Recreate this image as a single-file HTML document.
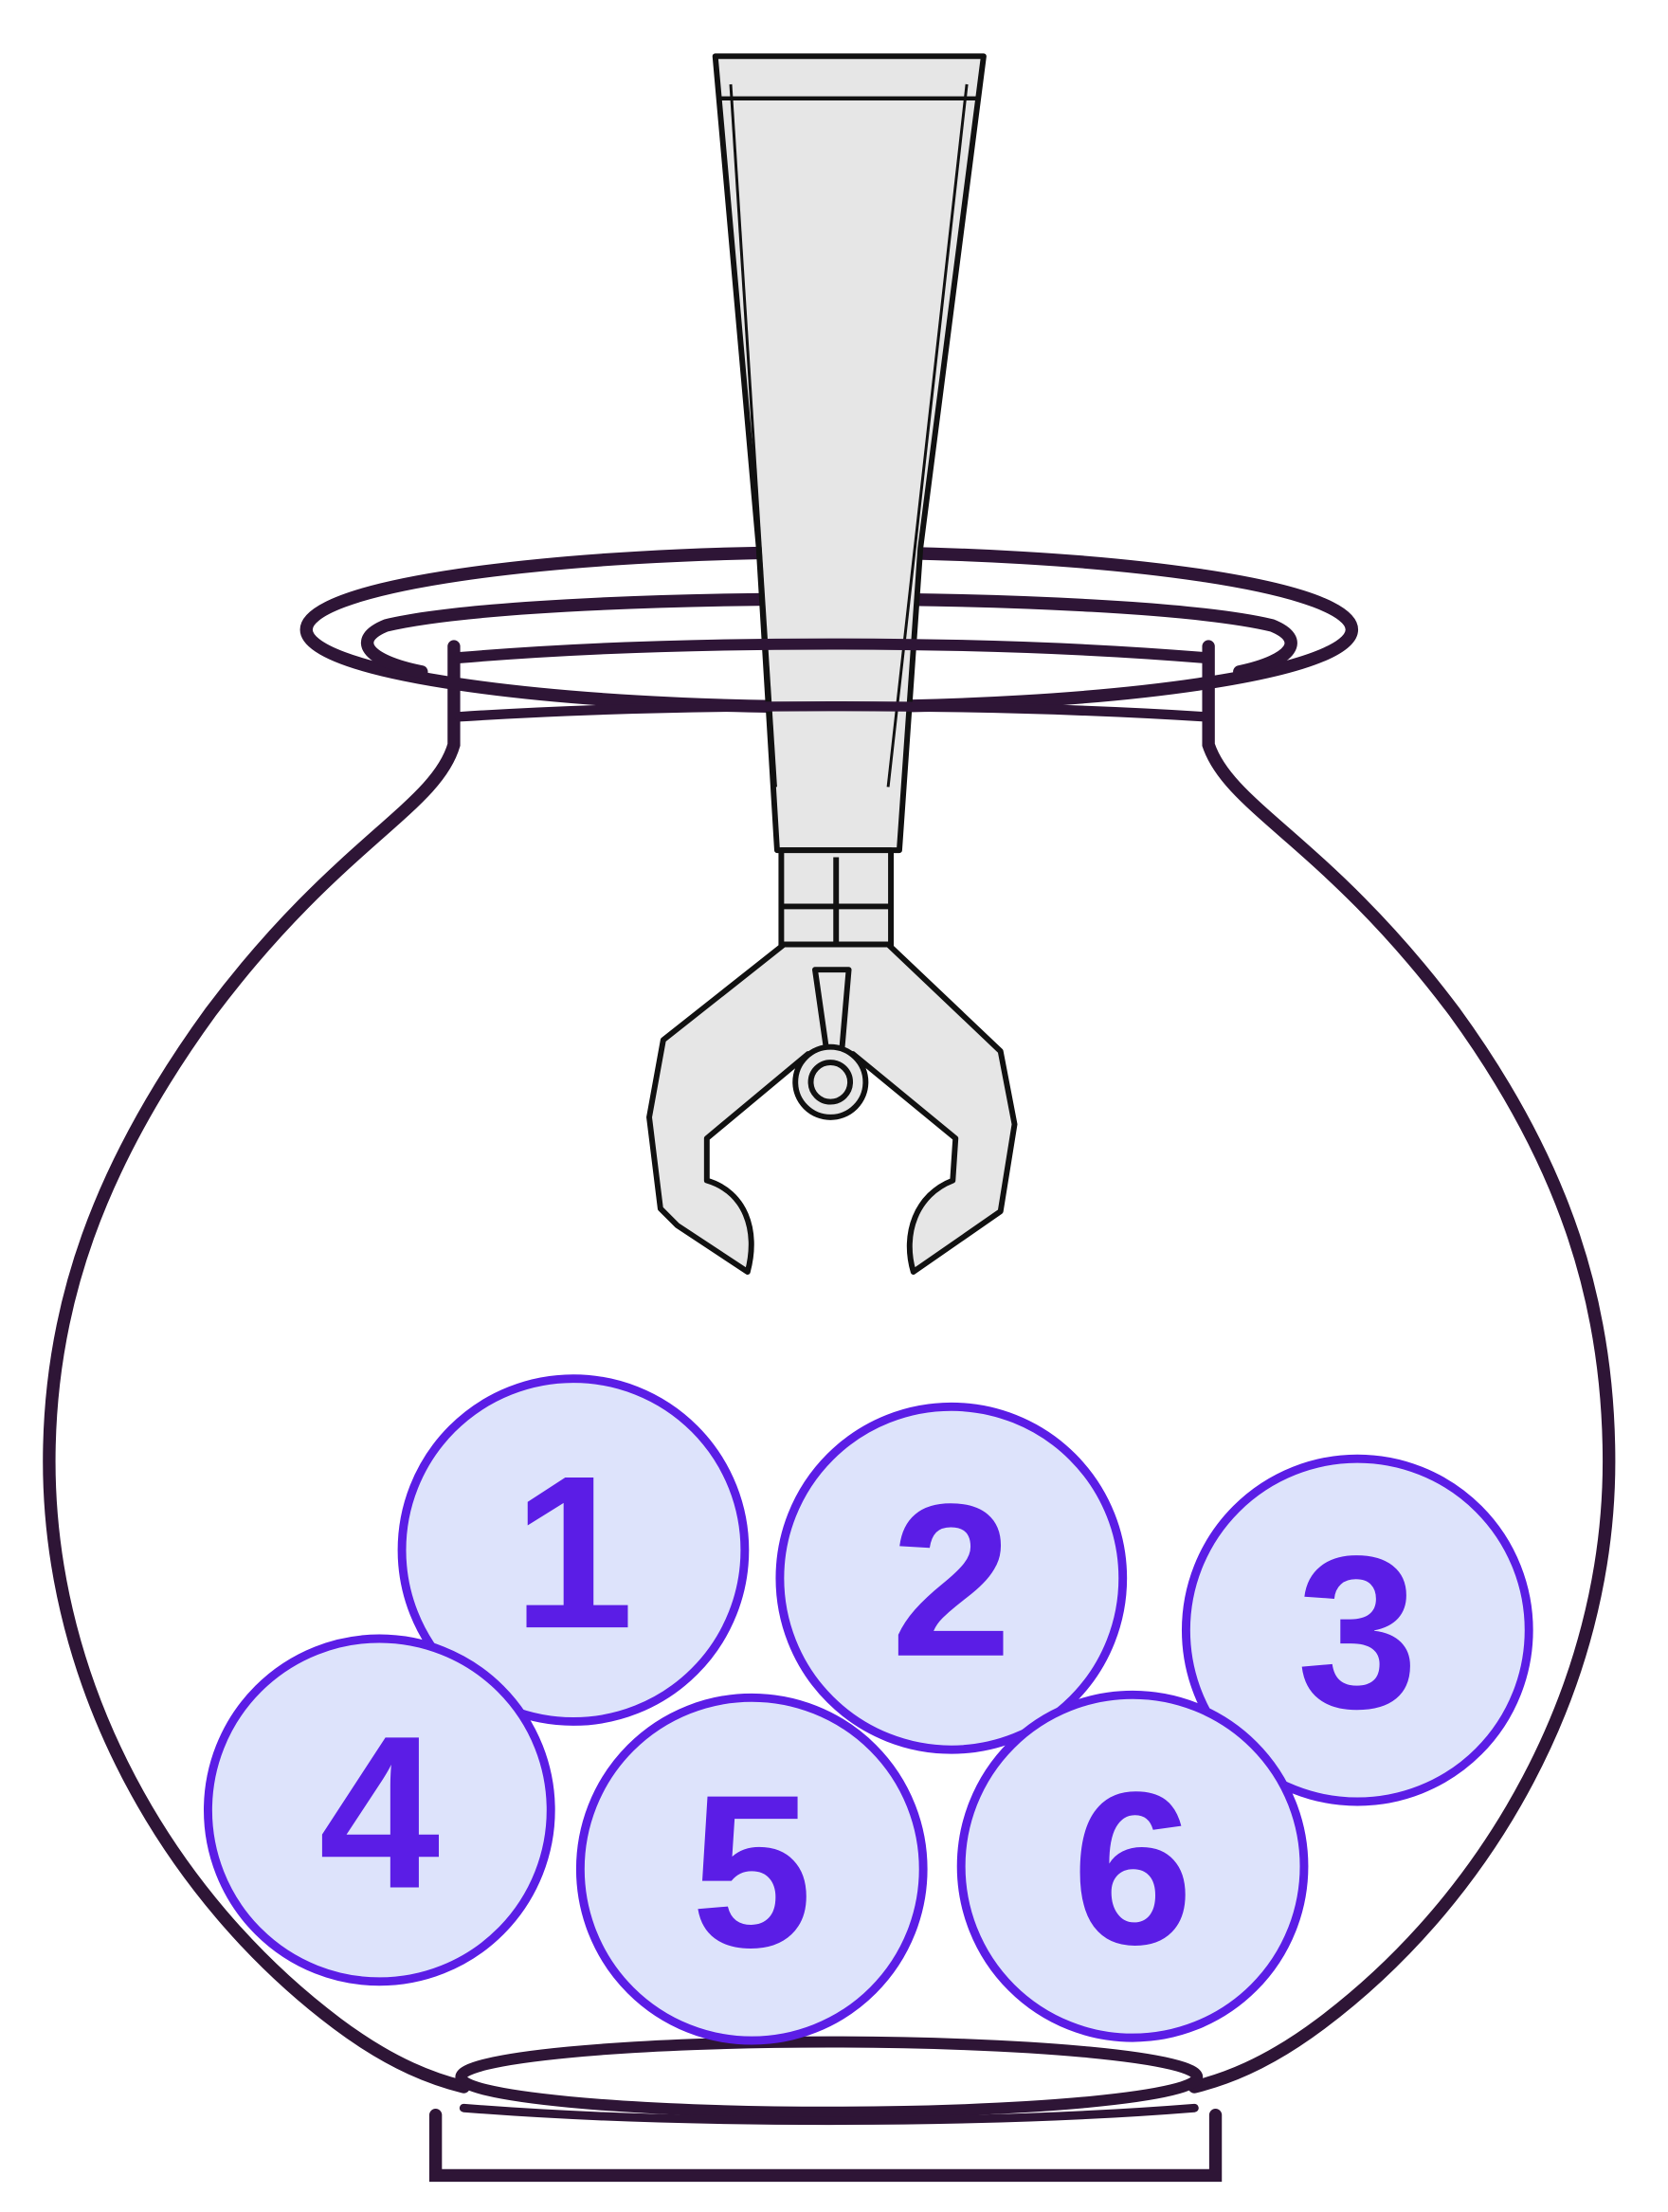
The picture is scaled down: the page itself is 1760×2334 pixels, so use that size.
<!DOCTYPE html>
<html><head><meta charset="utf-8"><style>
html,body{margin:0;padding:0;background:#fff;}
svg{display:block;}
</style></head><body>
<svg width="1760" height="2334" viewBox="0 0 1187 1574" preserveAspectRatio="none" xmlns="http://www.w3.org/2000/svg">
<rect width="1187" height="1574" fill="#fff"/>
<g fill="none" stroke="#2e1536" stroke-width="9" stroke-linecap="round">
  <path d="M323,460 L323,530 C310,575 240,600 150,720 C70,830 35,930 35,1040 C35,1200 120,1350 240,1440 C280,1470 310,1480 330,1485"/>
  <path d="M860,460 L860,530 C875,575 945,600 1035,720 C1115,830 1145,930 1145,1040 C1145,1200 1060,1350 940,1440 C900,1470 870,1480 850,1485"/>
  <ellipse cx="590" cy="448" rx="372" ry="55"/>
  <path d="M300,478 C260,470 250,455 275,445 C380,420 800,420 905,445 C930,455 920,470 882,478"/>
  <ellipse cx="590" cy="1478" rx="262" ry="25" stroke-width="8"/>
  <path d="M310,1505 L310,1548 L865,1548 L865,1505" stroke-width="9"/>
  <path d="M330,1500 C480,1512 700,1512 850,1500" stroke-width="6"/>
</g>
<g stroke="#111" stroke-width="4" stroke-linejoin="round">
  <polygon points="509,40 700,40 655,390 640,605 553,605 540,390" fill="#e6e6e6"/>
  <line x1="512" y1="70" x2="696" y2="70" stroke-width="3"/>
  <line x1="520" y1="60" x2="552" y2="560" stroke-width="2"/>
  <line x1="688" y1="60" x2="632" y2="560" stroke-width="2"/>
  <rect x="556" y="605" width="78" height="82" fill="#e6e6e6"/>
  <line x1="556" y1="645" x2="634" y2="645"/>
  <line x1="595" y1="610" x2="595" y2="687"/>
  <path fill="#e6e6e6" d="M558,672 L472,740 L462,795 L470,860 L482,872 L532,905 C540,875 530,848 503,840 L503,810 L575,750 L607,750 L680,810 L678,840 C652,850 642,878 650,905 L712,862 L722,800 L712,748 L632,672 Z"/>
  <polygon points="580,690 604,690 598,760 590,760" fill="#e6e6e6"/>
  <circle cx="591" cy="770" r="25" fill="#e6e6e6"/>
  <circle cx="591" cy="770" r="14" fill="#e6e6e6"/>
</g>
<g fill="none" stroke="#2e1536" stroke-linecap="round">
  <path d="M327,468 C480,455 700,455 857,468" stroke-width="8"/>
  <path d="M327,510 C480,500 700,500 857,510" stroke-width="7"/>
</g>
<g id="balls"></g>
<script>
const ballLabels = ["1","2","3","4","5","6"];
const ballCx = [408,677,966,270,535,806];
const ballCy = [1103,1123,1160,1288,1330,1328];
const g = document.getElementById('balls');
const NS = 'http://www.w3.org/2000/svg';
ballLabels.forEach((lab,i)=>{
  const grp = document.createElementNS(NS,'g');
  
  
  const c = document.createElementNS(NS,'circle');
  c.setAttribute('cx', ballCx[i]); c.setAttribute('cy', ballCy[i]); c.setAttribute('r', 122);
  c.setAttribute('fill', '#dde3fb'); c.setAttribute('stroke', '#5b1de6'); c.setAttribute('stroke-width', 6);
  grp.appendChild(c);
  const t = document.createElementNS(NS,'text');
  
  
  t.setAttribute('x', ballCx[i]); t.setAttribute('y', ballCy[i] + 55);
  t.setAttribute('text-anchor', 'middle');
  t.setAttribute('font-family', 'Liberation Sans, sans-serif');
  t.setAttribute('font-weight', 'bold'); t.setAttribute('font-size', 155);
  t.setAttribute('fill', '#5b1de6');
  t.textContent = lab;
  grp.appendChild(t);
  g.appendChild(grp);
});
</script>
</svg>
</body></html>
